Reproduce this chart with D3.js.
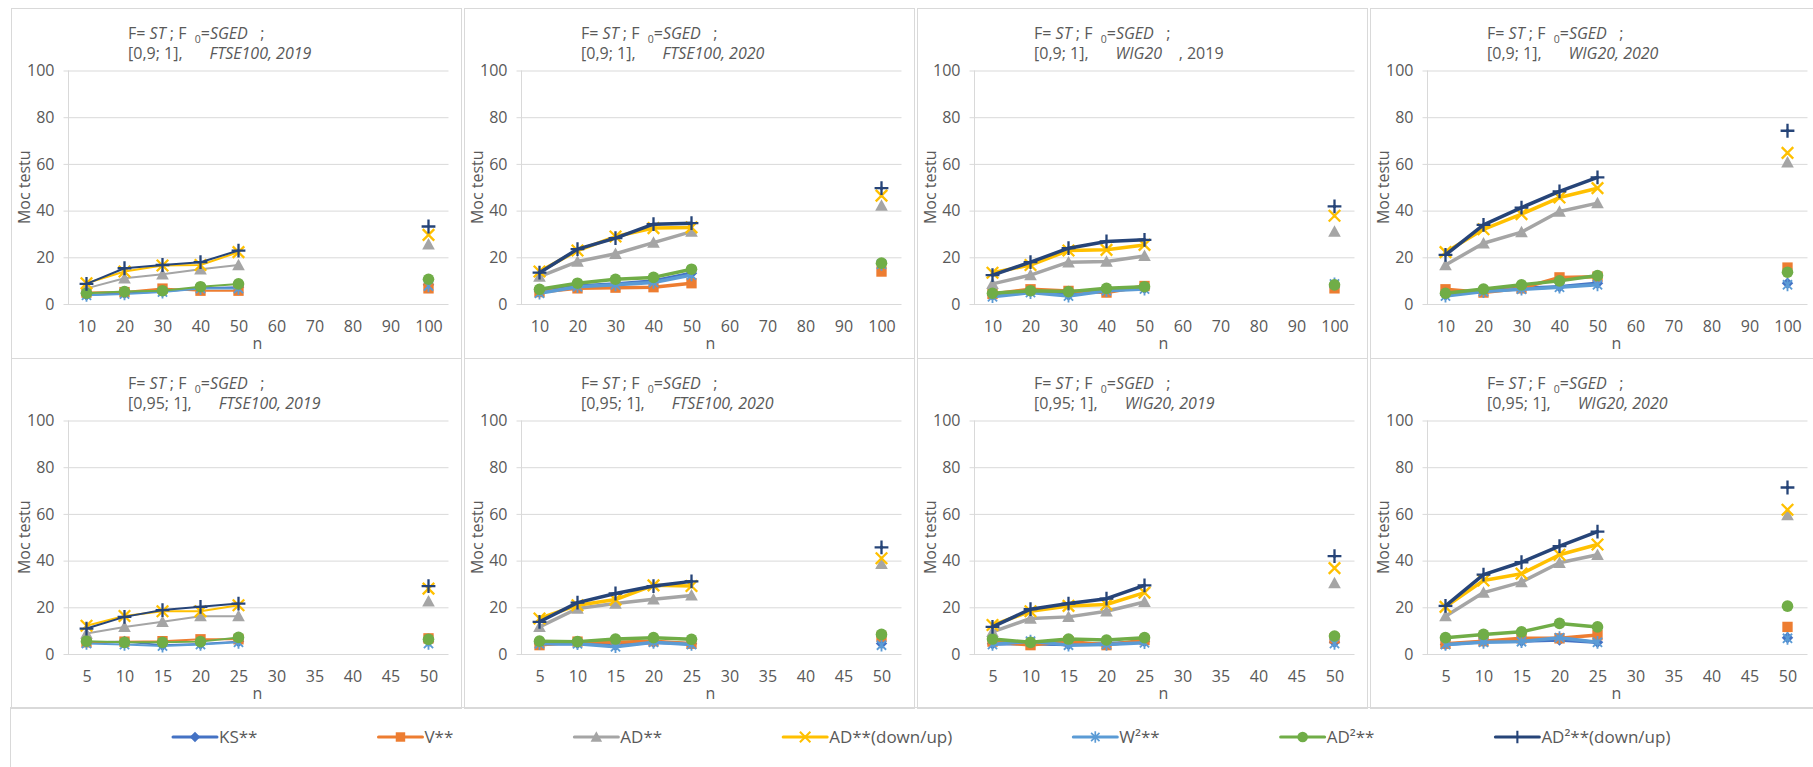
<!DOCTYPE html>
<html>
<head>
<meta charset="utf-8">
<script src="https://cdn.jsdelivr.net/npm/d3@7"></script>
<style>
  body { margin: 0; background: #fff; }
  svg text { font-family: "Open Sans", sans-serif; fill: #595959; }
</style>
</head>
<body>
<svg id="chart" width="1813" height="767"></svg>
<script>
// categories on the x axis (top row: [0,9; 1], bottom row: [0,95; 1])
var topCategories = [10, 20, 30, 40, 50, 60, 70, 80, 90, 100];
var bottomCategories = [5, 10, 15, 20, 25, 30, 35, 40, 45, 50];
// sample sizes that actually have results
var topSampleSizes = [10, 20, 30, 40, 50, 100];
var bottomSampleSizes = [5, 10, 15, 20, 25, 50];
var yTicks = [0, 20, 40, 60, 80, 100];

var seriesNames = ["KS**", "V**", "AD**", "AD**(down/up)", "W²**", "AD²**", "AD²**(down/up)"];

// test power, one row per series (same order as seriesNames)
var ftse2019_09 = [
  [3.9, 4.6, 5.3, 6.7, 7.2, 8.2],
  [4.9, 5.1, 6.6, 5.7, 5.7, 6.7],
  [6.7, 11.0, 12.7, 14.9, 16.7, 25.6],
  [8.9, 13.9, 16.5, 16.7, 22.2, 29.6],
  [3.7, 4.3, 5.1, 6.6, 6.6, 7.7],
  [4.6, 5.3, 5.7, 7.4, 8.6, 10.6],
  [8.6, 15.3, 16.7, 17.9, 22.9, 33.2]
];
var ftse2020_09 = [
  [5.3, 7.7, 8.6, 9.9, 13.2, 17.2],
  [5.1, 6.7, 7.0, 7.2, 8.9, 13.9],
  [11.7, 18.2, 21.5, 26.3, 31.0, 42.2],
  [13.9, 22.9, 28.9, 32.5, 32.8, 46.4],
  [4.6, 7.4, 8.2, 9.2, 12.4, 17.0],
  [6.3, 8.9, 10.6, 11.4, 14.9, 17.5],
  [13.4, 23.5, 28.2, 34.2, 34.6, 49.6]
];
var wig2019_09 = [
  [3.9, 5.3, 3.9, 6.0, 6.7, 7.4],
  [4.3, 6.3, 5.6, 4.9, 7.7, 6.7],
  [8.6, 12.4, 17.9, 18.2, 20.6, 31.0],
  [13.4, 16.7, 22.9, 23.2, 25.3, 37.8],
  [3.1, 4.9, 3.4, 5.7, 6.4, 8.6],
  [4.6, 5.7, 5.3, 6.7, 7.4, 8.2],
  [12.4, 17.9, 23.9, 26.8, 27.5, 41.8]
];
var wig2020_09 = [
  [3.9, 5.7, 6.7, 7.4, 8.9, 8.9],
  [6.3, 4.9, 6.7, 11.4, 11.7, 15.6],
  [16.7, 26.0, 30.8, 39.6, 43.2, 60.7],
  [22.2, 32.0, 38.5, 45.6, 49.6, 64.7],
  [3.4, 5.3, 6.3, 7.2, 8.2, 8.2],
  [4.6, 6.4, 8.2, 9.9, 12.2, 13.6],
  [21.0, 33.9, 41.3, 48.2, 54.2, 74.2]
];
var ftse2019_095 = [
  [5.0, 5.3, 3.8, 4.3, 5.3, 5.3],
  [5.0, 5.3, 5.5, 6.3, 6.3, 6.7],
  [8.8, 11.6, 13.8, 16.2, 16.2, 22.6],
  [12.1, 16.3, 18.3, 18.3, 20.9, 28.0],
  [4.5, 4.1, 3.4, 4.1, 5.0, 4.5],
  [5.5, 5.0, 5.0, 5.3, 7.1, 6.3],
  [10.9, 15.9, 18.8, 20.2, 21.6, 29.1]
];
var ftse2020_095 = [
  [4.4, 4.5, 3.8, 5.0, 4.4, 4.5],
  [3.8, 5.3, 5.0, 5.5, 4.4, 7.4],
  [11.6, 19.5, 21.6, 23.4, 25.1, 38.6],
  [15.2, 20.9, 23.3, 29.4, 29.1, 41.0],
  [4.4, 4.4, 3.1, 5.0, 4.1, 3.8],
  [5.5, 5.3, 6.4, 7.0, 6.3, 8.4],
  [13.8, 22.0, 25.9, 29.1, 31.1, 45.7]
];
var wig2019_095 = [
  [4.4, 4.4, 4.1, 4.4, 5.3, 5.0],
  [5.3, 3.8, 5.5, 3.8, 6.0, 6.7],
  [9.5, 15.2, 15.9, 18.3, 22.3, 30.4],
  [12.4, 18.3, 20.6, 21.2, 26.3, 36.8],
  [4.1, 5.5, 3.8, 4.1, 4.8, 4.5],
  [6.4, 5.0, 6.4, 6.0, 7.0, 7.7],
  [11.6, 19.2, 21.6, 23.7, 29.4, 41.9]
];
var wig2020_095 = [
  [4.1, 5.3, 5.5, 6.0, 5.0, 7.0],
  [4.4, 5.5, 6.7, 6.7, 8.1, 11.6],
  [16.2, 26.3, 30.8, 39.1, 42.5, 59.5],
  [20.2, 31.5, 34.4, 42.5, 46.9, 61.8],
  [4.1, 5.0, 5.3, 7.0, 5.0, 6.7],
  [7.0, 8.4, 9.5, 13.1, 11.6, 20.5],
  [20.6, 34.0, 39.3, 46.2, 52.4, 71.3]
];

// title pieces
var ranges = ["[0,9; 1],", "[0,95; 1],"];
var titleItalic = ["FTSE100, 2019", "FTSE100, 2020", "WIG20", "WIG20, 2020"];
var titleTail = ["", "", "    , 2019", ""];
var titleItalicBottom = ["FTSE100, 2019", "FTSE100, 2020", "WIG20, 2019", "WIG20, 2020"];

var colors = ["#4472C4", "#ED7D31", "#A5A5A5", "#FFC000", "#5B9BD5", "#70AD47", "#264478"];
var markers = ["diamond", "square", "triangle", "cross", "star", "circle", "plus"];

// FTSE100 2019 panels use thinner lines in the original
var panels = [
  { row: 0, col: 0, values: ftse2019_09, lw: 2 },
  { row: 0, col: 1, values: ftse2020_09, lw: 3.5 },
  { row: 0, col: 2, values: wig2019_09, lw: 3.5 },
  { row: 0, col: 3, values: wig2020_09, lw: 3.5 },
  { row: 1, col: 0, values: ftse2019_095, lw: 2 },
  { row: 1, col: 1, values: ftse2020_095, lw: 3.5 },
  { row: 1, col: 2, values: wig2019_095, lw: 3.5 },
  { row: 1, col: 3, values: wig2020_095, lw: 3.5 }
];

var panelLeft = [11, 464, 917, 1370];
var rowTop = [8, 358];
var panelW = 450, panelH = 350;
var gridColor = "#d9d9d9";

var svg = d3.select("#chart");

function drawMarker(g, type, color, x, y, s) {
  var m = g.append("path").attr("transform", "translate(" + x + "," + y + ") scale(" + s + ")");
  if (type == "diamond") {
    m.attr("d", "M0,-5L5,0L0,5L-5,0Z").attr("fill", color);
  } else if (type == "square") {
    m.attr("d", "M-4.5,-4.5H4.5V4.5H-4.5Z").attr("fill", color);
  } else if (type == "triangle") {
    m.attr("d", "M0,-5.5L5.5,4.5L-5.5,4.5Z").attr("fill", color);
  } else if (type == "circle") {
    m.attr("d", d3.symbol(d3.symbolCircle, 80)()).attr("fill", color);
  } else if (type == "cross") {
    m.attr("d", "M-5,-5L5,5M5,-5L-5,5").attr("stroke", color).attr("stroke-width", 2).attr("fill", "none");
  } else if (type == "star") {
    m.attr("d", "M-4,-4L4,4M4,-4L-4,4M0,-5.5L0,5.5").attr("stroke", color).attr("stroke-width", 1.6).attr("fill", "none");
  } else if (type == "plus") {
    m.attr("d", "M-6,0L6,0M0,-6L0,6").attr("stroke", color).attr("stroke-width", 2).attr("fill", "none");
  }
}

panels.forEach(function(p) {
  var L = panelLeft[p.col];
  var T = rowTop[p.row];
  var cats = p.row == 0 ? topCategories : bottomCategories;
  var ns = p.row == 0 ? topSampleSizes : bottomSampleSizes;

  var g = svg.append("g");

  // panel frame
  g.append("rect")
    .attr("x", L + 0.5).attr("y", T + 0.5)
    .attr("width", panelW).attr("height", panelH)
    .attr("fill", "none").attr("stroke", gridColor);

  var x = d3.scalePoint()
    .domain(cats)
    .range([L + 56.5, L + 436.5])
    .padding(0.5);
  var y = d3.scaleLinear()
    .domain([0, 100])
    .range([T + 296, T + 62.5]);

  // gridlines + y labels
  var yAxis = g.append("g")
    .attr("transform", "translate(" + (L + 57.5) + ",0)")
    .call(d3.axisLeft(y).tickValues(yTicks).tickSize(0).tickPadding(14));
  yAxis.select(".domain").remove();
  yAxis.selectAll(".tick line")
    .attr("x1", -5).attr("x2", 380)
    .attr("stroke", gridColor);
  yAxis.selectAll(".tick text")
    .attr("font-size", 16).attr("fill", "#595959")
    .style("font-family", "'Open Sans', sans-serif");

  g.append("line")
    .attr("x1", L + 57.5).attr("x2", L + 57.5)
    .attr("y1", y(0)).attr("y2", y(100))
    .attr("stroke", gridColor);

  // x labels
  var xAxis = g.append("g")
    .attr("transform", "translate(0," + y(0) + ")")
    .call(d3.axisBottom(x).tickSize(0).tickPadding(17));
  xAxis.select(".domain").remove();
  xAxis.selectAll(".tick text")
    .attr("font-size", 16).attr("fill", "#595959")
    .style("font-family", "'Open Sans', sans-serif");

  g.append("text")
    .attr("x", L + 246.5).attr("y", T + 341)
    .attr("text-anchor", "middle")
    .attr("font-size", 16)
    .text("n");

  g.append("text")
    .attr("transform", "translate(" + (L + 18.5) + "," + ((y(0) + y(100)) / 2) + ") rotate(-90)")
    .attr("text-anchor", "middle")
    .attr("font-size", 16)
    .text("Moc testu");

  // title, two lines
  var t1 = g.append("text")
    .attr("x", L + 117).attr("y", T + 31)
    .attr("font-size", 16)
    .style("white-space", "pre");
  t1.append("tspan").text("F= ");
  t1.append("tspan").attr("font-style", "italic").text("ST");
  t1.append("tspan").text(" ; F  ");
  t1.append("tspan").attr("font-size", 10.5).attr("dy", 4).text("0");
  t1.append("tspan").attr("dy", -4).text("=");
  t1.append("tspan").attr("font-style", "italic").text("SGED");
  t1.append("tspan").text("   ;");

  var t2 = g.append("text")
    .attr("x", L + 117).attr("y", T + 51)
    .attr("font-size", 16)
    .style("white-space", "pre");
  t2.append("tspan").text(ranges[p.row]);
  t2.append("tspan")
    .attr("dx", 27)
    .attr("font-style", "italic")
    .text(p.row == 0 ? titleItalic[p.col] : titleItalicBottom[p.col]);
  if (p.row == 0 && titleTail[p.col]) {
    t2.append("tspan").text(titleTail[p.col]);
  }

  // series
  var line = d3.line()
    .defined(function(d) { return d.v != null; })
    .x(function(d) { return x(d.c); })
    .y(function(d) { return y(d.v); });

  p.values.forEach(function(vals, si) {
    var pts = cats.map(function(c) {
      var i = ns.indexOf(c);
      return { c: c, v: i < 0 ? null : vals[i] };
    });
    g.append("path")
      .datum(pts)
      .attr("d", line)
      .attr("fill", "none")
      .attr("stroke", colors[si])
      .attr("stroke-width", p.lw)
      .attr("stroke-linejoin", "round")
      .attr("stroke-linecap", "round");
    pts.forEach(function(d) {
      if (d.v == null) return;
      drawMarker(g, markers[si], colors[si], x(d.c), y(d.v), 1.15);
    });
  });
});

// Legend
var legend = svg.append("g");
legend.append("rect")
  .attr("x", 10.5).attr("y", 707.5)
  .attr("width", 1820).attr("height", 100)
  .attr("fill", "none").attr("stroke", gridColor);

var lx = 173, ly = 737;
seriesNames.forEach(function(name, i) {
  legend.append("line")
    .attr("x1", lx).attr("x2", lx + 44)
    .attr("y1", ly).attr("y2", ly)
    .attr("stroke", colors[i]).attr("stroke-width", 3)
    .attr("stroke-linecap", "round");
  drawMarker(legend, markers[i], colors[i], lx + 22, ly, 1.05);
  var txt = legend.append("text")
    .attr("x", lx + 46).attr("y", ly + 6)
    .attr("font-size", 17)
    .text(name);
  lx += 46 + txt.node().getComputedTextLength() + 121;
});
</script>
</body>
</html>
